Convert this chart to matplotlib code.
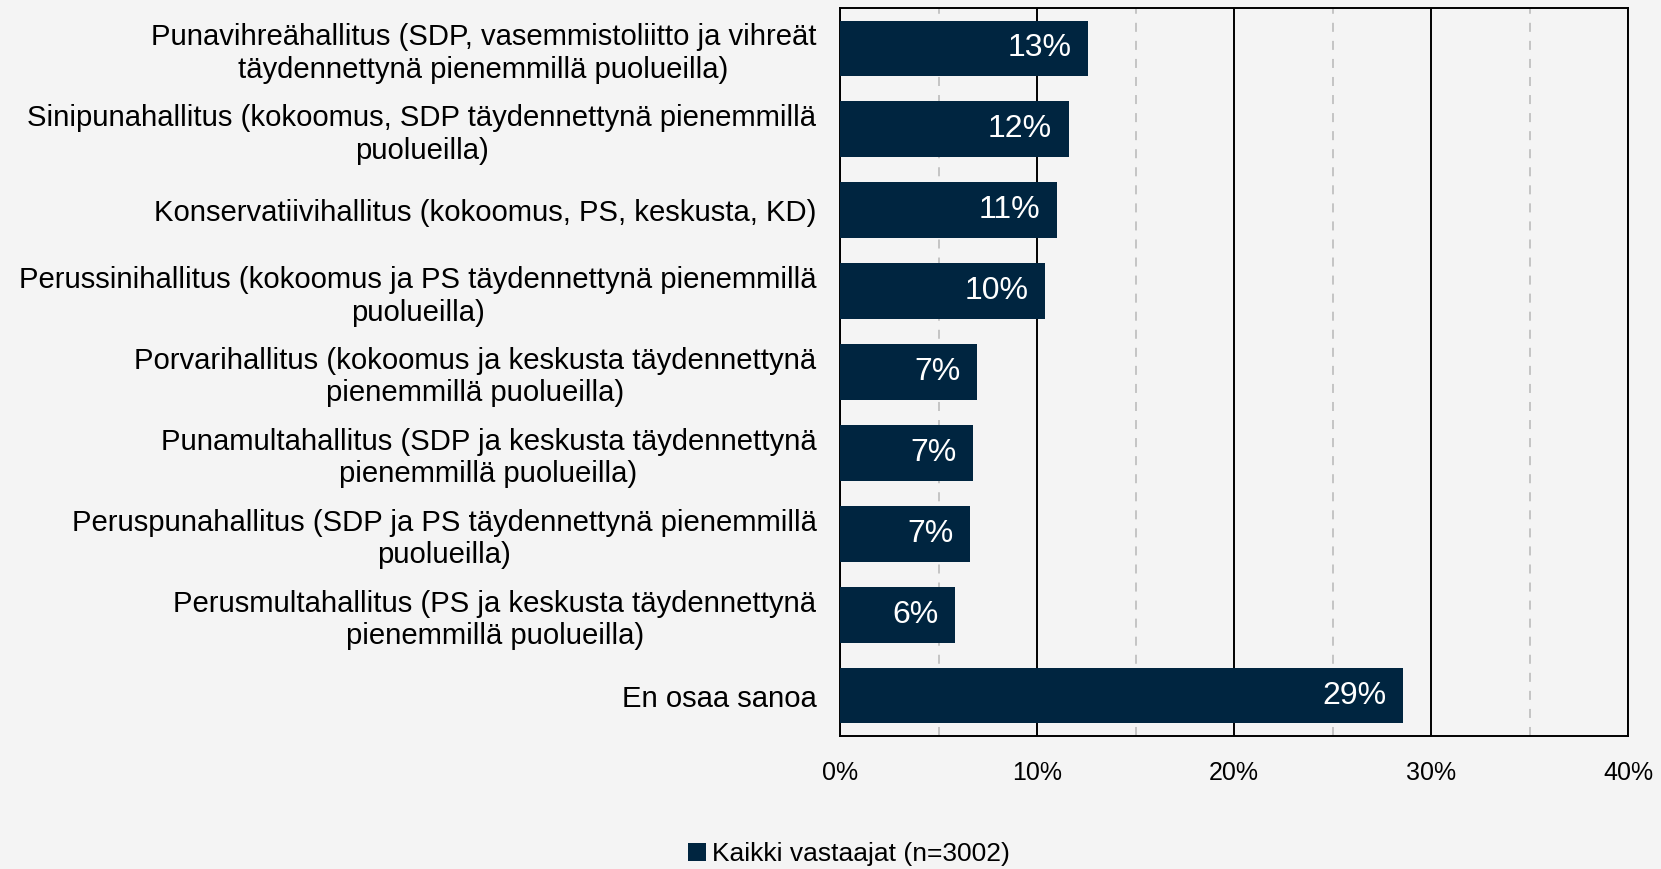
import matplotlib.pyplot as plt
from matplotlib.ticker import MultipleLocator, FuncFormatter

plt.rcParams['font.family'] = ['Liberation Sans', 'DejaVu Sans']

# data
categories = [
    "Punavihreähallitus (SDP, vasemmistoliitto ja vihreät\ntäydennettynä pienemmillä puolueilla)",
    "Sinipunahallitus (kokoomus, SDP täydennettynä pienemmillä\npuolueilla)",
    "Konservatiivihallitus (kokoomus, PS, keskusta, KD)",
    "Perussinihallitus (kokoomus ja PS täydennettynä pienemmillä\npuolueilla)",
    "Porvarihallitus (kokoomus ja keskusta täydennettynä\npienemmillä puolueilla)",
    "Punamultahallitus (SDP ja keskusta täydennettynä\npienemmillä puolueilla)",
    "Peruspunahallitus (SDP ja PS täydennettynä pienemmillä\npuolueilla)",
    "Perusmultahallitus (PS ja keskusta täydennettynä\npienemmillä puolueilla)",
    "En osaa sanoa",
]
values = [12.6, 11.6, 11.0, 10.4, 6.95, 6.75, 6.6, 5.85, 28.6]
value_labels = ["13%", "12%", "11%", "10%", "7%", "7%", "7%", "6%", "29%"]
series_name = "Kaikki vastaajat (n=3002)"

bg = "#f4f4f4"
bar_color = "#002540"

fig = plt.figure(figsize=(16.61, 8.69), dpi=100, facecolor=bg)
ax = fig.add_axes([840 / 1661, 1 - 736 / 869, (1628 - 840) / 1661, (736 - 8) / 869])
ax.set_facecolor(bg)

ypos = list(range(len(categories)))
bars = ax.barh(ypos, values, height=0.69, color=bar_color, label=series_name, zorder=3)

for b, lab in zip(bars, value_labels):
    ax.text(b.get_width() - 0.85, b.get_y() + b.get_height() / 2, lab,
            ha='right', va='center', color='white', fontsize=23, zorder=4)

ax.set_xlim(0, 40)
ax.set_ylim(len(categories) - 0.5, -0.5)
ax.set_yticks(ypos)
ax.set_yticklabels(categories, fontsize=21.1, multialignment='center')
ax.tick_params(axis='y', length=0, pad=17)

ax.xaxis.set_major_locator(MultipleLocator(10))
ax.xaxis.set_minor_locator(MultipleLocator(5))
ax.xaxis.set_major_formatter(FuncFormatter(lambda v, p: f"{v:.0f}%"))
ax.tick_params(axis='x', which='both', length=0, labelsize=18, pad=18)
ax.grid(axis='x', which='major', color='black', linewidth=1.4, zorder=1)
ax.grid(axis='x', which='minor', color='#c0c0c0', linewidth=1.3, linestyle=(0, (5, 5)), zorder=1)

for s in ax.spines.values():
    s.set_color('black')
    s.set_linewidth(1.4)

fig.legend(loc='center', bbox_to_anchor=(0.511, 0.017), frameon=False,
           fontsize=19, handlelength=0.7, handleheight=0.7, handletextpad=0.2)

fig.savefig("out.png", dpi=100, facecolor=bg)
